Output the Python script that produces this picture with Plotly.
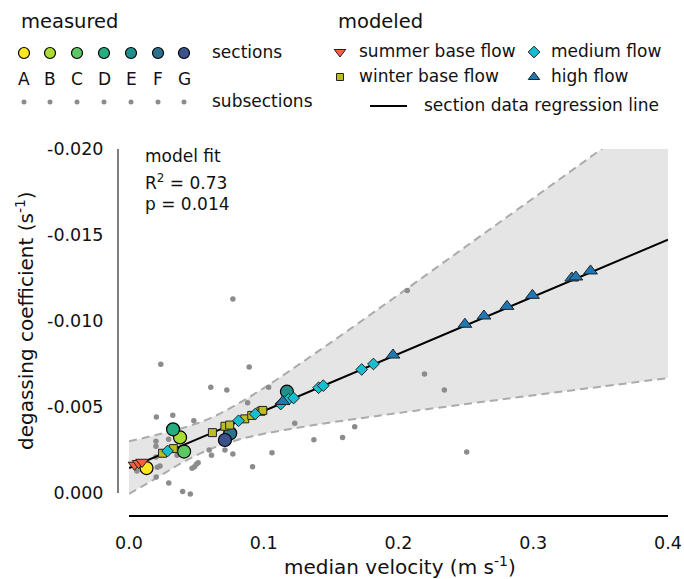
import plotly.graph_objects as go

# ---------------- data ----------------
section_names = ["A", "B", "C", "D", "E", "F", "G"]
section_colors = ["#FDE725", "#AADC32", "#5DC863", "#27AD81", "#21908C", "#2C728E", "#3B528B"]
section_v = [0.0130, 0.0379, 0.0409, 0.0327, 0.1172, 0.0751, 0.0712]
section_k = [-0.00145, -0.00323, -0.00241, -0.00370, -0.00589, -0.00347, -0.00308]

sub_v = [0.0236, 0.0771, 0.0892, 0.0607, 0.0726, 0.1036, 0.0203, 0.0325, 0.0481, 0.0880,
         0.1230, 0.0200, 0.0200, 0.0294, 0.0357, 0.0595, 0.0612, 0.0712, 0.0771, 0.1061,
         0.0917, 0.1372, 0.1585, 0.0201, 0.0210, 0.0230, 0.0202, 0.0059, 0.0295, 0.0398,
         0.0455, 0.0468, 0.0486, 0.0500, 0.0513, 0.1675, 0.2065, 0.2193, 0.2340, 0.2506]
sub_k = [-0.00748, -0.01128, -0.00733, -0.00615, -0.00599, -0.00615, -0.00442, -0.00452, -0.00420, -0.00525,
         -0.00405, -0.00301, -0.00272, -0.00313, -0.00220, -0.00250, -0.00220, -0.00250, -0.00227, -0.00234,
         -0.00152, -0.00309, -0.00322, -0.00209, -0.00149, -0.00157, -0.00093, -0.00128, -0.00058, -0.00009,
         0.00006, -0.00144, -0.00153, -0.00167, -0.00176, -0.00385, -0.01177, -0.00692, -0.00599, -0.00238]

summer_v = [0.0041, 0.0071, 0.0097]
summer_k = [-0.00163, -0.00173, -0.00180]

winter_v = [0.0249, 0.0329, 0.0619, 0.0712, 0.0747, 0.0859, 0.0911, 0.0979, 0.0993]
winter_k = [-0.00231, -0.00258, -0.00351, -0.00388, -0.00395, -0.00431, -0.00451, -0.00475, -0.00480]

medium_v = [0.0286, 0.0813, 0.0937, 0.1126, 0.1184, 0.1222, 0.1407, 0.1442, 0.1727, 0.1814]
medium_k = [-0.00244, -0.00420, -0.00459, -0.00517, -0.00545, -0.00552, -0.00612, -0.00624, -0.00718, -0.00750]

high_v = [0.1141, 0.1959, 0.2493, 0.2634, 0.2805, 0.2994, 0.3286, 0.3316, 0.3425]
high_k = [-0.00532, -0.00802, -0.00981, -0.01029, -0.01085, -0.01149, -0.01250, -0.01256, -0.01291]

reg_v = [0.0, 0.4]
reg_k = [-0.00145, -0.01473]

band_v = [0.0, 0.02, 0.04, 0.06, 0.08, 0.10, 0.125, 0.15, 0.175, 0.20, 0.25, 0.30, 0.35, 0.40]
band_upper = [-0.00300, -0.00337, -0.00378, -0.00434, -0.00515, -0.00610, -0.00741, -0.00876,
              -0.01014, -0.01153, -0.01433, -0.01714, -0.01996, -0.02278]
band_lower = [0.00005, -0.00085, -0.00179, -0.00254, -0.00307, -0.00344, -0.00379, -0.00410,
              -0.00438, -0.00465, -0.00517, -0.00568, -0.00618, -0.00668]

x_ticks = [0.0, 0.1, 0.2, 0.3, 0.4]
x_tick_labels = ["0.0", "0.1", "0.2", "0.3", "0.4"]
y_ticks = [0.0, -0.005, -0.010, -0.015, -0.020]
y_tick_labels = ["0.000", "-0.005", "-0.010", "-0.015", "-0.020"]

summer_color = "#F5603F"
winter_color = "#BCBD22"
medium_color = "#17BECF"
high_color = "#1F77B4"
dot_color = "#8C8C8C"

FONT = "DejaVu Sans"
W, H = 684, 579


def px(x):
    return x / W


def py(y):
    return 1 - y / H


fig = go.Figure()

# confidence band
fig.add_trace(go.Scatter(x=band_v, y=band_lower, mode="lines", line=dict(width=0, shape="spline"),
                         hoverinfo="skip", showlegend=False))
fig.add_trace(go.Scatter(x=band_v, y=band_upper, mode="lines", line=dict(width=0, shape="spline"),
                         fill="tonexty", fillcolor="#E5E5E5", hoverinfo="skip", showlegend=False))
for b in (band_lower, band_upper):
    fig.add_trace(go.Scatter(x=band_v, y=b, mode="lines",
                             line=dict(color="#ABABAB", width=2, dash="8px,5px", shape="spline"),
                             hoverinfo="skip", showlegend=False))

# subsections
fig.add_trace(go.Scatter(x=sub_v, y=sub_k, mode="markers", cliponaxis=False,
                         marker=dict(size=5.5, color=dot_color), showlegend=False))
# regression line
fig.add_trace(go.Scatter(x=reg_v, y=reg_k, mode="lines", line=dict(color="black", width=2),
                         showlegend=False))
# sections
fig.add_trace(go.Scatter(x=section_v, y=section_k, mode="markers", cliponaxis=False,
                         marker=dict(size=13, color=section_colors, line=dict(color="black", width=1.2)),
                         showlegend=False))
# modeled
fig.add_trace(go.Scatter(x=summer_v, y=summer_k, mode="markers", cliponaxis=False,
                         marker=dict(symbol="triangle-down", size=11, color=summer_color,
                                     line=dict(color="#222", width=1)), showlegend=False))
fig.add_trace(go.Scatter(x=winter_v, y=winter_k, mode="markers", cliponaxis=False,
                         marker=dict(symbol="square", size=8, color=winter_color,
                                     line=dict(color="#222", width=1)), showlegend=False))
fig.add_trace(go.Scatter(x=medium_v, y=medium_k, mode="markers", cliponaxis=False,
                         marker=dict(symbol="diamond", size=9, color=medium_color,
                                     line=dict(color="#222", width=1)), showlegend=False))
fig.add_trace(go.Scatter(x=high_v, y=high_k, mode="markers", cliponaxis=False,
                         marker=dict(symbol="triangle-up", size=12, color=high_color,
                                     line=dict(color="#222", width=1)), showlegend=False))

# ---------------- legend (overlay axes in pixel units) ----------------
leg_x = [24, 50, 77, 104, 131, 158, 184]
fig.add_trace(go.Scatter(x=leg_x, y=[53] * 7, mode="markers", xaxis="x2", yaxis="y2",
                         marker=dict(size=11, color=section_colors, line=dict(color="black", width=1.2)),
                         showlegend=False, hoverinfo="skip"))
fig.add_trace(go.Scatter(x=leg_x, y=[102] * 7, mode="markers", xaxis="x2", yaxis="y2",
                         marker=dict(size=5, color=dot_color), showlegend=False, hoverinfo="skip"))
fig.add_trace(go.Scatter(x=[340], y=[52], mode="markers", xaxis="x2", yaxis="y2",
                         marker=dict(symbol="triangle-down", size=10, color=summer_color,
                                     line=dict(color="#222", width=1)), showlegend=False, hoverinfo="skip"))
fig.add_trace(go.Scatter(x=[340], y=[77], mode="markers", xaxis="x2", yaxis="y2",
                         marker=dict(symbol="square", size=7, color=winter_color,
                                     line=dict(color="#222", width=1)), showlegend=False, hoverinfo="skip"))
fig.add_trace(go.Scatter(x=[534], y=[52], mode="markers", xaxis="x2", yaxis="y2",
                         marker=dict(symbol="diamond", size=9, color=medium_color,
                                     line=dict(color="#222", width=1)), showlegend=False, hoverinfo="skip"))
fig.add_trace(go.Scatter(x=[534], y=[77], mode="markers", xaxis="x2", yaxis="y2",
                         marker=dict(symbol="triangle-up", size=10, color=high_color,
                                     line=dict(color="#222", width=1)), showlegend=False, hoverinfo="skip"))
fig.add_trace(go.Scatter(x=[370, 407], y=[106, 106], mode="lines", xaxis="x2", yaxis="y2",
                         line=dict(color="black", width=2), showlegend=False, hoverinfo="skip"))

annotations = []


def txt(x, y, s, size=17, xanchor="left", angle=0):
    annotations.append(dict(x=px(x), y=py(y), xref="paper", yref="paper", text=s, showarrow=False,
                            xanchor=xanchor, yanchor="middle", textangle=angle,
                            font=dict(family=FONT, size=size, color="#111")))


txt(19, 21, "measured", 19.5)
txt(210, 52, "sections")
txt(210, 101, "subsections")
for xx, nm in zip(leg_x, section_names):
    txt(xx, 79, nm, 17, xanchor="center")
txt(336, 21, "modeled", 19.5)
txt(357, 51, "summer base flow")
txt(357, 76, "winter base flow")
txt(549, 51, "medium flow")
txt(549, 76, "high flow")
txt(422, 105, "section data regression line")

txt(143, 156, "model fit")
txt(143, 182, "R<sup>2</sup> = 0.73")
txt(143, 204, "p = 0.014")

txt(400, 566, "median velocity (m s<sup>-1</sup>)", 20, xanchor="center")
txt(25, 321, "degassing coefficient (s<sup>-1</sup>)", 20, xanchor="center", angle=-90)

shapes = [
    dict(type="line", xref="paper", yref="y", x0=px(118), x1=px(118), y0=0.0, y1=-0.020,
         line=dict(color="#555555", width=1.5)),
]

fig.update_layout(
    width=W, height=H, autosize=False,
    margin=dict(l=0, r=0, t=0, b=0),
    paper_bgcolor="white", plot_bgcolor="rgba(0,0,0,0)",
    font=dict(family=FONT, size=17, color="#111"),
    xaxis=dict(domain=[129 / W, 668 / W], range=[0, 0.4], tickvals=x_ticks, ticktext=x_tick_labels,
               showgrid=False, zeroline=False, showline=True, linecolor="black", linewidth=1.5,
               ticks="outside", ticklen=11, tickcolor="rgba(0,0,0,0)",
               tickfont=dict(family=FONT, size=17.5, color="#111"), anchor="y", automargin=False),
    yaxis=dict(domain=[(H - 515) / H, (H - 149) / H], range=[0.00128, -0.020], tickvals=y_ticks,
               ticktext=y_tick_labels, showgrid=False, zeroline=False, showline=False,
               ticks="outside", ticklen=21, tickcolor="rgba(0,0,0,0)",
               tickfont=dict(family=FONT, size=17.5, color="#111"), anchor="x", automargin=False),
    xaxis2=dict(domain=[0, 1], range=[0, W], visible=False, anchor="y2", fixedrange=True),
    yaxis2=dict(domain=[0, 1], range=[H, 0], visible=False, anchor="x2", fixedrange=True),
    annotations=annotations,
    shapes=shapes,
)

fig.write_html("out.html")
